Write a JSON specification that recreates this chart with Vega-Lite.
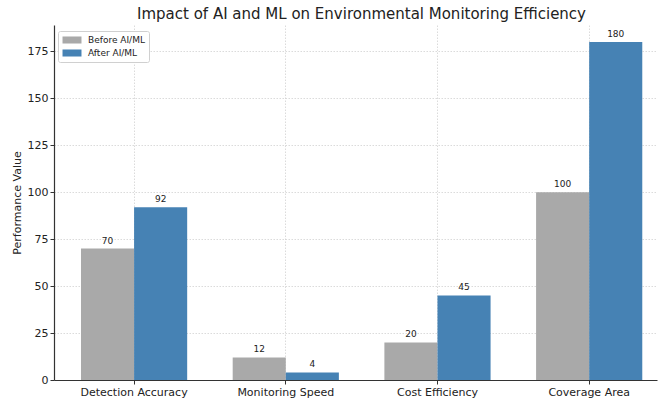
{
  "$schema": "https://vega.github.io/schema/vega-lite/v6.json",
  "width": 603,
  "height": 355,
  "autosize": {"type": "none"},
  "padding": {"left": 54, "top": 25, "right": 2, "bottom": 18},
  "background": "white",
  "config": {
    "font": "DejaVu Sans",
    "view": {"stroke": null},
    "axis": {"labelFont": "DejaVu Sans", "titleFont": "DejaVu Sans"}
  },
  "title": {
    "text": "Impact of AI and ML on Environmental Monitoring Efficiency",
    "fontSize": 15,
    "fontWeight": "normal",
    "color": "#222",
    "anchor": "middle",
    "offset": 3,
    "dx": 6
  },
  "data": {
    "values": [
      {"metric": "Detection Accuracy", "phase": "Before AI/ML", "value": 70},
      {"metric": "Detection Accuracy", "phase": "After AI/ML", "value": 92},
      {"metric": "Monitoring Speed", "phase": "Before AI/ML", "value": 12},
      {"metric": "Monitoring Speed", "phase": "After AI/ML", "value": 4},
      {"metric": "Cost Efficiency", "phase": "Before AI/ML", "value": 20},
      {"metric": "Cost Efficiency", "phase": "After AI/ML", "value": 45},
      {"metric": "Coverage Area", "phase": "Before AI/ML", "value": 100},
      {"metric": "Coverage Area", "phase": "After AI/ML", "value": 180}
    ]
  },
  "encoding": {
    "x": {
      "field": "metric",
      "type": "nominal",
      "sort": ["Detection Accuracy", "Monitoring Speed", "Cost Efficiency", "Coverage Area"],
      "scale": {"paddingInner": 0.3, "paddingOuter": 0.1375, "align": 0.647},
      "axis": {
        "title": null,
        "labelAngle": 0,
        "labelFontSize": 11,
        "labelColor": "#222",
        "labelPadding": 2,
        "bandPosition": 0.5,
        "grid": true,
        "gridColor": "#cccccc",
        "gridDash": [1.5, 1.5],
        "gridWidth": 0.7,
        "domainColor": "#333",
        "domainWidth": 1.2,
        "tickColor": "#333",
        "tickSize": 4
      }
    },
    "xOffset": {
      "field": "phase",
      "type": "nominal",
      "sort": ["Before AI/ML", "After AI/ML"],
      "scale": {"paddingInner": 0, "paddingOuter": 0}
    },
    "y": {
      "field": "value",
      "type": "quantitative",
      "scale": {"domain": [0, 189], "nice": false},
      "axis": {
        "title": "Performance Value",
        "titleFontSize": 11,
        "titleFontWeight": "normal",
        "titleColor": "#222",
        "titlePadding": 5,
        "values": [0, 25, 50, 75, 100, 125, 150, 175],
        "labelFontSize": 11,
        "labelColor": "#222",
        "labelPadding": 2,
        "grid": true,
        "gridColor": "#cccccc",
        "gridDash": [1.5, 1.5],
        "gridWidth": 0.7,
        "domainColor": "#333",
        "domainWidth": 1.2,
        "tickColor": "#333",
        "tickSize": 4
      }
    }
  },
  "layer": [
    {
      "mark": {"type": "bar"},
      "encoding": {
        "color": {
          "field": "phase",
          "type": "nominal",
          "sort": ["Before AI/ML", "After AI/ML"],
          "scale": {"domain": ["Before AI/ML", "After AI/ML"], "range": ["#a9a9a9", "#4682b4"]},
          "legend": {
            "title": null,
            "orient": "none",
            "legendX": 4,
            "legendY": 6,
            "symbolType": "M-2,-0.74L2,-0.74L2,0.74L-2,0.74Z",
            "symbolSize": 90,
            "symbolOffset": 5,
            "symbolStrokeWidth": 0,
            "labelFontSize": 9,
            "labelColor": "#222",
            "labelOffset": 11,
            "rowPadding": 3,
            "padding": 4,
            "strokeColor": "#d0d0d0",
            "fillColor": "white",
            "cornerRadius": 2
          }
        }
      }
    },
    {
      "mark": {"type": "text", "dy": -3, "baseline": "bottom", "fontSize": 9, "color": "#222"},
      "encoding": {
        "text": {"field": "value", "type": "quantitative"}
      }
    }
  ]
}
